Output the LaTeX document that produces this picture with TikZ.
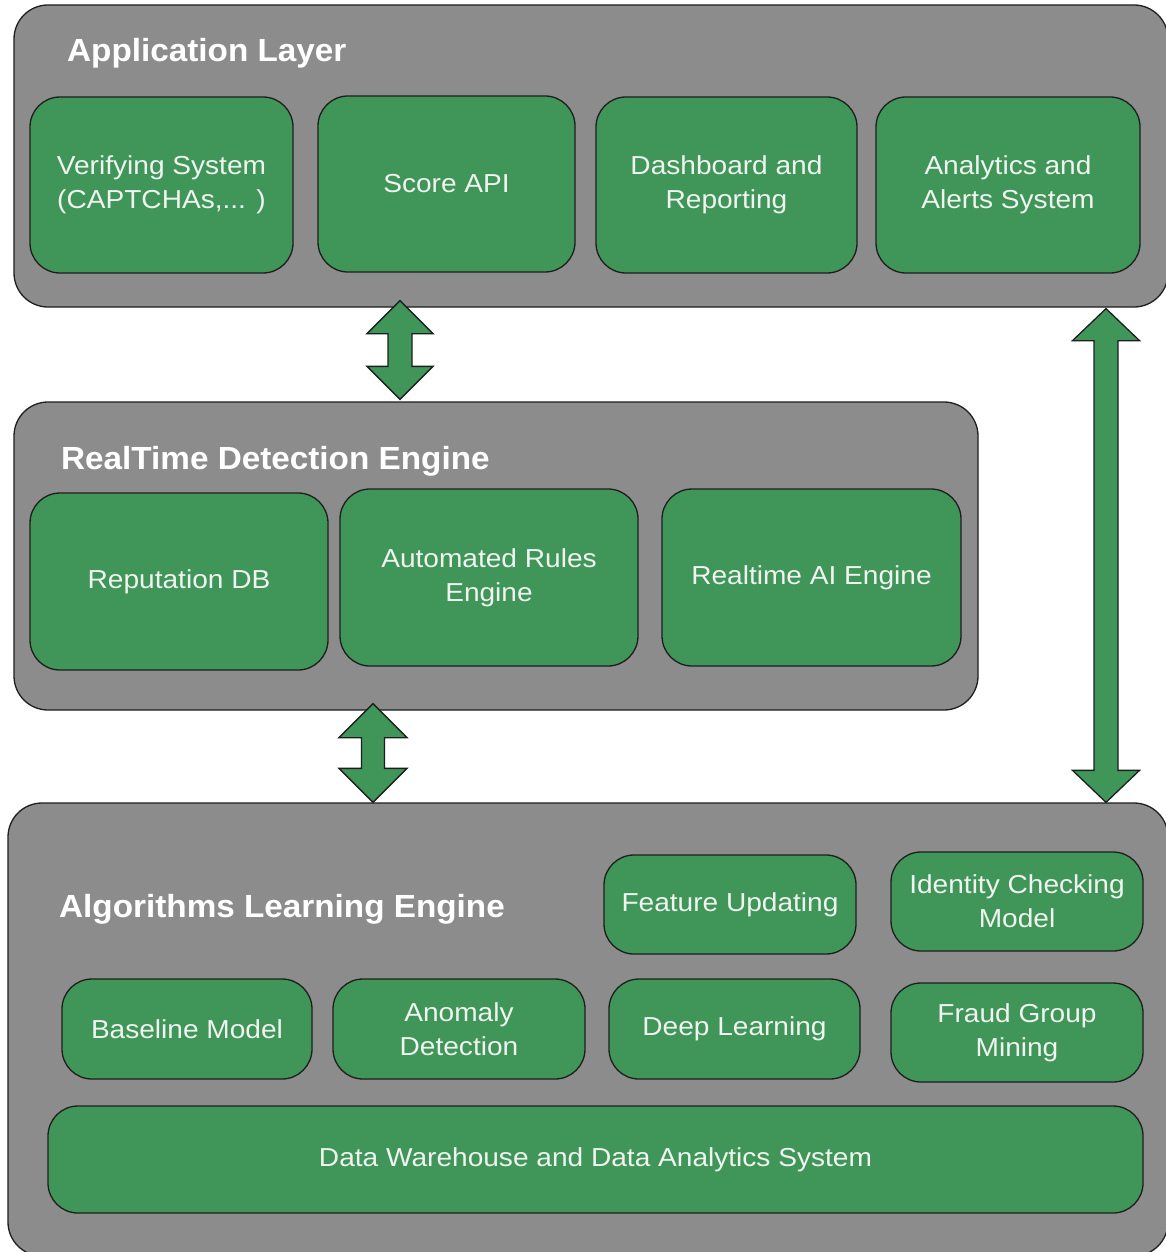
\documentclass[tikz,border=0pt]{standalone}
\usepackage{fontspec}
\setmainfont{Liberation Sans}
\newfontfamily\boxfont[FakeStretch=1.08]{Liberation Sans}
\newfontfamily\titlefont[FakeStretch=1.04]{Liberation Sans}
\usetikzlibrary{calc}

\definecolor{layergray}{RGB}{140,140,140}
\definecolor{boxgreen}{RGB}{64,149,89}
\definecolor{edgedark}{RGB}{30,30,30}
\definecolor{labelwhite}{RGB}{240,244,240}

% double-headed block arrow between two named points
% #1 upper tip, #2 lower tip, #3 head half-width, #4 shaft half-width, #5 head length
\newcommand\blockarrow[5]{%
  \draw[blockarrow]
    (#1) -- ($(#1)+(#3,-#5)$) -- ($(#1)+(#4,-#5)$)
    -- ($(#2)+(#4,#5)$) -- ($(#2)+(#3,#5)$) -- (#2)
    -- ($(#2)+(-#3,#5)$) -- ($(#2)+(-#4,#5)$)
    -- ($(#1)+(-#4,-#5)$) -- ($(#1)+(-#3,-#5)$) -- cycle;}

\begin{document}
\begin{tikzpicture}[x=1pt,y=1pt,
  layer/.style={draw=edgedark, fill=layergray, line width=1.3pt,
    rounded corners=34pt, inner sep=0pt},
  layertitle/.style={anchor=west, text=white, inner sep=0pt,
    font=\titlefont\bfseries\fontsize{32}{36}\selectfont},
  comp/.style={draw=edgedark, fill=boxgreen, line width=1.3pt,
    rounded corners=30pt, inner sep=0pt, text=labelwhite, align=center,
    font=\boxfont\fontsize{26}{34}\selectfont},
  blockarrow/.style={draw=edgedark, fill=boxgreen, line width=1.3pt,
    line join=miter}]

\useasboundingbox (0,0) rectangle (1166,-1252);
\fill[white] (0,0) rectangle (1166,-1252);

% ---- layers ----
\node[layer, minimum width=1154pt, minimum height=302pt] (app) at (591,-156) {};
\node[layer, minimum width=964pt, minimum height=308pt] (rt) at (496,-556) {};
\node[layer, minimum width=1160pt, minimum height=453pt] (alg) at (588,-1029.5) {};

\node[layertitle] (apptitle) at (67,-53) {Application Layer};
\node[layertitle] (rttitle) at (61,-461) {RealTime Detection Engine};
\node[layertitle] (algtitle) at (59,-909) {Algorithms Learning Engine};

% ---- application layer ----
\node[comp, minimum width=263pt, minimum height=176pt] (verify) at (161.5,-185)
  {Verifying System\\(CAPTCHAs,... )};
\node[comp, minimum width=257pt, minimum height=176pt] (score) at (446.5,-184)
  {Score API};
\node[comp, minimum width=261pt, minimum height=176pt] (dash) at (726.5,-185)
  {Dashboard and\\Reporting};
\node[comp, minimum width=264pt, minimum height=176pt] (alerts) at (1008,-185)
  {Analytics and\\Alerts System};

% ---- realtime detection engine ----
\node[comp, minimum width=298pt, minimum height=177pt] (repdb) at (179,-581.5)
  {Reputation DB};
\node[comp, minimum width=298pt, minimum height=177pt] (rules) at (489,-577.5)
  {Automated Rules\\Engine};
\node[comp, minimum width=299pt, minimum height=177pt] (aieng) at (811.5,-577.5)
  {Realtime AI Engine};

% ---- algorithms learning engine ----
\node[comp, minimum width=252pt, minimum height=99pt] (feature) at (730,-904.5)
  {Feature Updating};
\node[comp, minimum width=252pt, minimum height=99pt] (identity) at (1017,-901.5)
  {Identity Checking\\Model};
\node[comp, minimum width=250pt, minimum height=100pt] (baseline) at (187,-1029)
  {Baseline Model};
\node[comp, minimum width=252pt, minimum height=100pt] (anomaly) at (459,-1029)
  {Anomaly\\Detection};
\node[comp, minimum width=251pt, minimum height=100pt] (deep) at (734.5,-1029)
  {Deep Learning};
\node[comp, minimum width=252pt, minimum height=99pt] (fraud) at (1017,-1032.5)
  {Fraud Group\\Mining};
\node[comp, minimum width=1095pt, minimum height=107pt] (dw) at (595.5,-1159.5)
  {Data Warehouse and Data Analytics System};

% ---- connectors between layers ----
\coordinate (a1top) at ([xshift=-191pt,yshift=7pt]app.south);
\coordinate (a1bot) at ([xshift=-96pt,yshift=2pt]rt.north);
\coordinate (a2top) at ([xshift=-123pt,yshift=7pt]rt.south);
\coordinate (a2bot) at ([xshift=-215pt]alg.north);
\coordinate (a3top) at ([xshift=515pt,yshift=-1pt]app.south);
\coordinate (a3bot) at ([xshift=518pt]alg.north);

\blockarrow{a1top}{a1bot}{33}{12}{33}
\blockarrow{a2top}{a2bot}{34}{11.5}{34}
\blockarrow{a3top}{a3bot}{33.5}{12}{32}

\end{tikzpicture}
\end{document}
